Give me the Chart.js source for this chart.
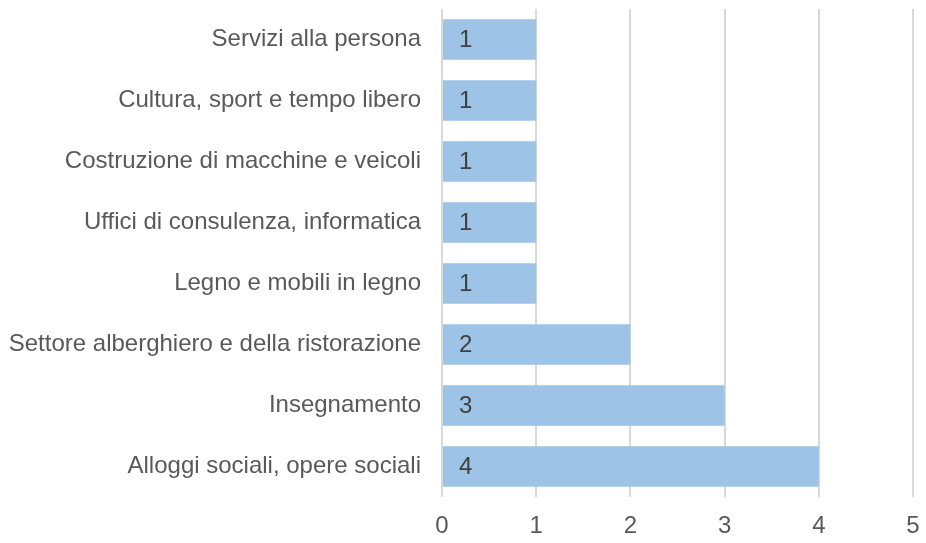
<!DOCTYPE html>
<html>
<head>
<meta charset="utf-8">
<script src="https://cdn.jsdelivr.net/npm/chart.js@4"></script>
<style>
  html, body { margin: 0; padding: 0; background: #ffffff; }
  #myChart { display: block; }
</style>
</head>
<body>
<canvas id="myChart" width="926" height="543"></canvas>
<script>
const categories = [
    "Servizi alla persona",
    "Cultura, sport e tempo libero",
    "Costruzione di macchine e veicoli",
    "Uffici di consulenza, informatica",
    "Legno e mobili in legno",
    "Settore alberghiero e della ristorazione",
    "Insegnamento",
    "Alloggi sociali, opere sociali"
];
const counts = [1, 1, 1, 1, 1, 2, 3, 4];
const xTicks = [0, 1, 2, 3, 4, 5];

const FONT = "Arial, 'Liberation Sans', sans-serif";

// draws the value near the start of each bar
const barLabels = {
    id: "barLabels",
    afterDatasetsDraw(chart) {
        const ctx = chart.ctx;
        const meta = chart.getDatasetMeta(0);
        ctx.save();
        ctx.font = "24px " + FONT;
        ctx.fillStyle = "#404040";
        ctx.textAlign = "left";
        ctx.textBaseline = "middle";
        meta.data.forEach((bar, i) => {
            ctx.fillText(String(counts[i]), bar.base + 16, bar.y + 1);
        });
        ctx.restore();
    }
};

const config = {
    type: "bar",
    data: {
        labels: categories,
        datasets: [
            {
                data: counts,
                backgroundColor: "#9DC3E6",
                borderWidth: 0,
                categoryPercentage: 1,
                barPercentage: 0.66
            }
        ]
    },
    options: {
        indexAxis: "y",
        responsive: false,
        animation: false,
        layout: { padding: { top: 9, right: 13, left: 0, bottom: 0 } },
        plugins: {
            legend: { display: false },
            tooltip: { enabled: false }
        },
        scales: {
            x: {
                min: 0,
                max: 5,
                afterBuildTicks: axis => { axis.ticks = xTicks.map(v => ({ value: v })); },
                grid: { color: "#D9D9D9", lineWidth: 2, drawTicks: false },
                border: { display: false },
                ticks: {
                    color: "#595959",
                    font: { family: FONT, size: 24 },
                    padding: 15
                },
                afterFit: axis => {
                    axis.height = 46;
                    axis.paddingLeft = 0;
                    axis.paddingRight = 0;
                }
            },
            y: {
                grid: { display: false },
                border: { display: false },
                ticks: {
                    color: "#595959",
                    font: { family: FONT, size: 24 },
                    padding: 13
                },
                afterFit: axis => {
                    axis.width = 442;
                    axis.paddingTop = 0;
                    axis.paddingBottom = 0;
                }
            }
        }
    },
    plugins: [barLabels]
};

document.fonts.load("24px 'Liberation Sans'").then(() => {
    new Chart(document.getElementById("myChart"), config);
});
</script>
</body>
</html>
